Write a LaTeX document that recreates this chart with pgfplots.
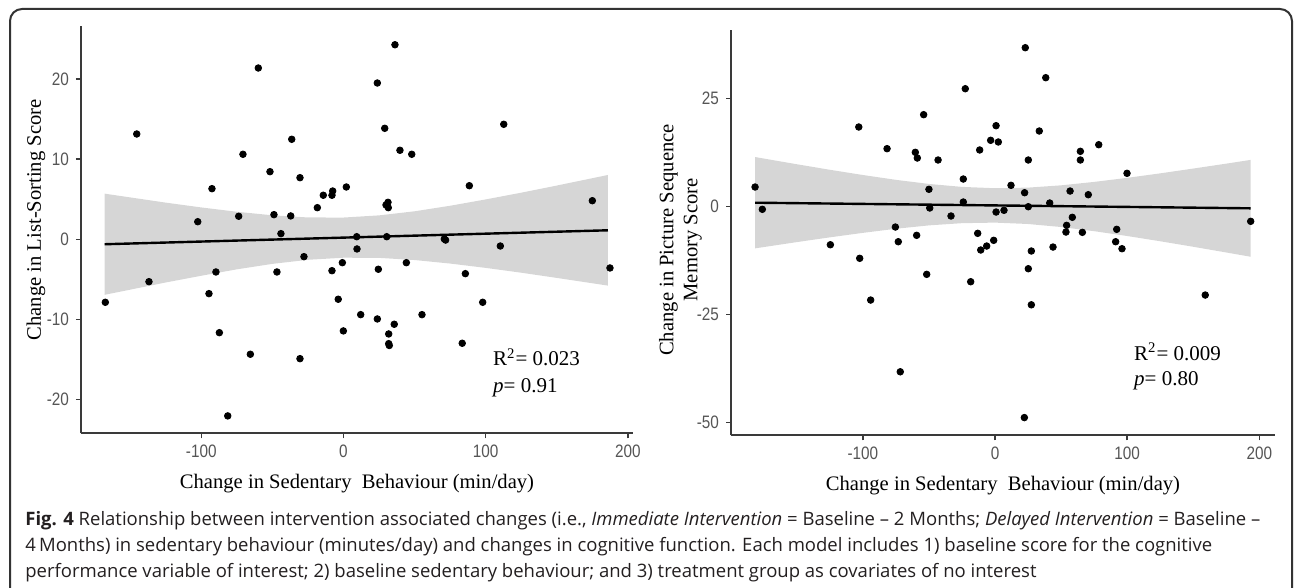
\documentclass[border=0pt]{standalone}
\usepackage{fontspec}
\setmainfont{Liberation Serif}
\newfontfamily\tickfont[FakeStretch=0.85]{Liberation Sans}
\newfontfamily\capfont{Open Sans}
\usepackage{xcolor}
\usepackage{pgfplots}
\pgfplotsset{compat=1.18}
\definecolor{axisgray}{HTML}{3A3A3A}
\definecolor{tickgray}{HTML}{555555}
\definecolor{bandgray}{HTML}{999999}
\definecolor{capblack}{HTML}{231F20}

\pgfplotsset{
  panel/.style={
    scale only axis,
    axis lines=left,
    axis line style={-, line width=1bp, axisgray},
    tick align=outside,
    major tick length=2.5bp,
    tick style={line width=0.7bp, axisgray},
    tick label style={font=\tickfont\fontsize{9bp}{10bp}\selectfont, text=tickgray},
    /pgf/number format/assume math mode=true,
    label style={font=\fontsize{10.3bp}{12bp}\selectfont},
    xlabel style={at={(axis description cs:0.5,0)}, anchor=center, yshift=-25bp},
    clip=false,
  },
  pts/.style={only marks, mark=*, mark size=1.65bp, black},
  band/.style={fill=bandgray, fill opacity=0.4, draw=none},
  fit/.style={black, line width=1.2bp, no marks},
}

\begin{document}
\begin{tikzpicture}
\useasboundingbox (0,0) rectangle (647.5bp,294bp);
\draw[line width=1bp, black!80, rounded corners=6bp]
  (5bp,0) -- (5bp,289.5bp) -- (646bp,289.5bp) -- (646bp,0);

% left panel: list sorting
\begin{axis}[panel,
  at={(40.5bp,77.35bp)}, anchor=south west,
  width=276bp, height=203.65bp,
  xmin=-184.6, xmax=203.6, ymin=-24.2, ymax=26.6,
  xtick={-100,0,100,200}, ytick={-20,-10,0,10,20},
  xlabel={Change in Sedentary\ \ Behaviour (min/day)},
  ylabel={Change in List-Sorting Score},
  ylabel style={at={(axis description cs:0,0.524)}, anchor=center, yshift=22.5bp},
]
\addplot[pts] coordinates {
(-167.5,-7.86) (-145.4,13.13) (-136.8,-5.29) (-102.5,2.19) (-94.6,-6.78)
(-92.5,6.31) (-89.7,-4.08) (-87.3,-11.65) (-81.4,-22.03) (-73.7,2.87)
(-70.7,10.60) (-65.5,-14.34) (-59.9,21.36) (-51.7,8.43) (-48.9,3.07)
(-46.8,-4.08) (-44.0,0.70) (-37.1,2.91) (-36.4,12.47) (-30.6,7.68)
(-30.6,-14.89) (-27.8,-2.17) (-18.4,3.94) (-14.2,5.49) (-8.1,5.49)
(-7.6,6.02) (-8.1,-3.92) (-3.7,-7.48) (-0.8,-2.92) (-0.1,-11.43)
(2.0,6.52) (9.3,0.32) (9.5,-1.21) (12.1,-9.40) (23.8,19.49)
(23.8,-9.94) (24.5,-3.74) (29.0,13.84) (30.4,0.32) (31.3,4.61)
(29.9,4.28) (31.5,3.94) (31.8,-11.81) (31.8,-13.02) (32.2,-13.25)
(35.7,-10.60) (36.2,24.26) (39.7,11.10) (44.2,-2.92) (48.0,10.60)
(55.2,-9.40) (70.9,0.04) (71.8,-0.10) (83.5,-12.97) (85.7,-4.29)
(88.5,6.68) (97.9,-7.86) (110.3,-0.84) (112.7,14.34) (175.0,4.81)
(187.4,-3.58)
};
\addplot[band] coordinates {
(-168,5.69) (-125,4.57) (-100,3.97) (-75,3.43) (-50,2.99) (-25,2.72)
(0,2.71) (25,2.98) (50,3.49) (75,4.18) (100,4.97) (125,5.81) (150,6.70) (186,8.02)
(186,-5.78) (150,-4.82) (125,-4.17) (100,-3.57) (75,-3.03) (50,-2.59) (25,-2.32)
(0,-2.30) (-25,-2.56) (-50,-3.07) (-75,-3.75) (-100,-4.55) (-125,-5.39) (-168,-6.93)
};
\addplot[fit] coordinates {(-168,-0.62) (186,1.12)};
\node[anchor=base west, font=\fontsize{10.5bp}{12bp}\selectfont, inner sep=0]
  at (axis cs:105,-15.8) {R\textsuperscript{2}= 0.023};
\node[anchor=base west, font=\fontsize{10.5bp}{12bp}\selectfont, inner sep=0]
  at (axis cs:105,-19.1) {\textit{p}= 0.91};
\end{axis}

% right panel: picture sequence memory
\begin{axis}[panel,
  at={(365.5bp,76.35bp)}, anchor=south west,
  width=272bp, height=202.65bp,
  xmin=-199.8, xmax=211.9, ymin=-52.9, ymax=40.9,
  xtick={-200,-100,0,100,200}, ytick={-50,-25,0,25},
  xlabel={Change in Sedentary\ \ Behaviour (min/day)},
  ylabel={Change in Picture Sequence\\Memory Score},
  ylabel style={align=center, at={(axis description cs:0,0.482)}, anchor=center, yshift=25.25bp},
]
\addplot[pts] coordinates {
(-181.6,4.56) (-176.1,-0.6) (-124.6,-8.80) (-103.1,18.45) (-102.4,-11.94)
(-94.1,-21.6) (-81.7,13.43) (-75.4,-4.70) (-73.2,-8.10) (-71.7,-38.2)
(-60.3,12.59) (-58.8,11.27) (-59.3,-6.62) (-54.0,21.30) (-51.7,-15.65)
(-50.0,4.03) (-49.4,-0.30) (-43.1,10.81) (-33.3,-2.15) (-24.0,6.41)
(-24.0,1.09) (-22.5,27.31) (-18.4,-17.36) (-13.1,-6.16) (-11.6,13.13)
(-10.8,-10.02) (-6.3,-9.10) (-3.3,15.37) (-1.0,-7.78) (0.8,18.75)
(0.8,-1.23) (2.5,14.98) (6.8,-0.83) (12.1,4.95) (22.2,-48.8)
(22.4,3.24) (22.9,36.8) (25.2,10.81) (25.2,0.0) (25.2,-14.35)
(27.5,-10.25) (27.5,-22.7) (33.5,17.52) (38.4,29.86) (41.4,0.86)
(43.9,-9.33) (53.7,-5.86) (54.2,-4.31) (56.8,3.63) (58.5,-2.45)
(64.6,12.82) (64.6,10.81) (66.1,-5.93) (70.6,2.78) (78.5,14.35)
(91.3,-8.10) (92.1,-5.23) (96.1,-9.72) (99.9,7.73) (159.1,-20.44)
(193.5,-3.38)
};
\addplot[band] coordinates {
(-181.6,11.50) (-150,9.83) (-125,8.55) (-100,7.34) (-75,6.22) (-50,5.27) (-25,4.59)
(0,4.28) (25,4.42) (50,4.95) (75,5.74) (100,6.68) (125,7.72) (150,8.83) (175,9.97) (193.5,10.84)
(193.5,-11.58) (175,-10.59) (150,-9.27) (125,-7.99) (100,-6.78) (75,-5.66) (50,-4.70)
(25,-4.00) (0,-3.68) (-25,-3.81) (-50,-4.32) (-75,-5.10) (-100,-6.05) (-125,-7.09)
(-150,-8.19) (-181.6,-9.64)
};
\addplot[fit] coordinates {(-181.6,0.93) (193.5,-0.37)};
\node[anchor=base west, font=\fontsize{10.5bp}{12bp}\selectfont, inner sep=0]
  at (axis cs:105,-35.5) {R\textsuperscript{2}= 0.009};
\node[anchor=base west, font=\fontsize{10.5bp}{12bp}\selectfont, inner sep=0]
  at (axis cs:105,-41.3) {\textit{p}= 0.80};
\end{axis}

% caption
\begin{scope}[every node/.style={anchor=base west, inner sep=0, text=capblack,
    font=\capfont\fontsize{9.25bp}{11bp}\selectfont}]
\node at (12.5bp,31.5bp) {\textbf{Fig. 4} Relationship between intervention associated changes (i.e., \textit{Immediate Intervention} = Baseline – 2 Months; \textit{Delayed Intervention} = Baseline –};
\node at (12.5bp,18.5bp) {4\,Months) in sedentary behaviour (minutes/day) and changes in cognitive function. Each model includes 1) baseline score for the cognitive};
\node at (12.5bp,5.5bp) {performance variable of interest; 2) baseline sedentary behaviour; and 3) treatment group as covariates of no interest};
\end{scope}
\end{tikzpicture}
\end{document}
